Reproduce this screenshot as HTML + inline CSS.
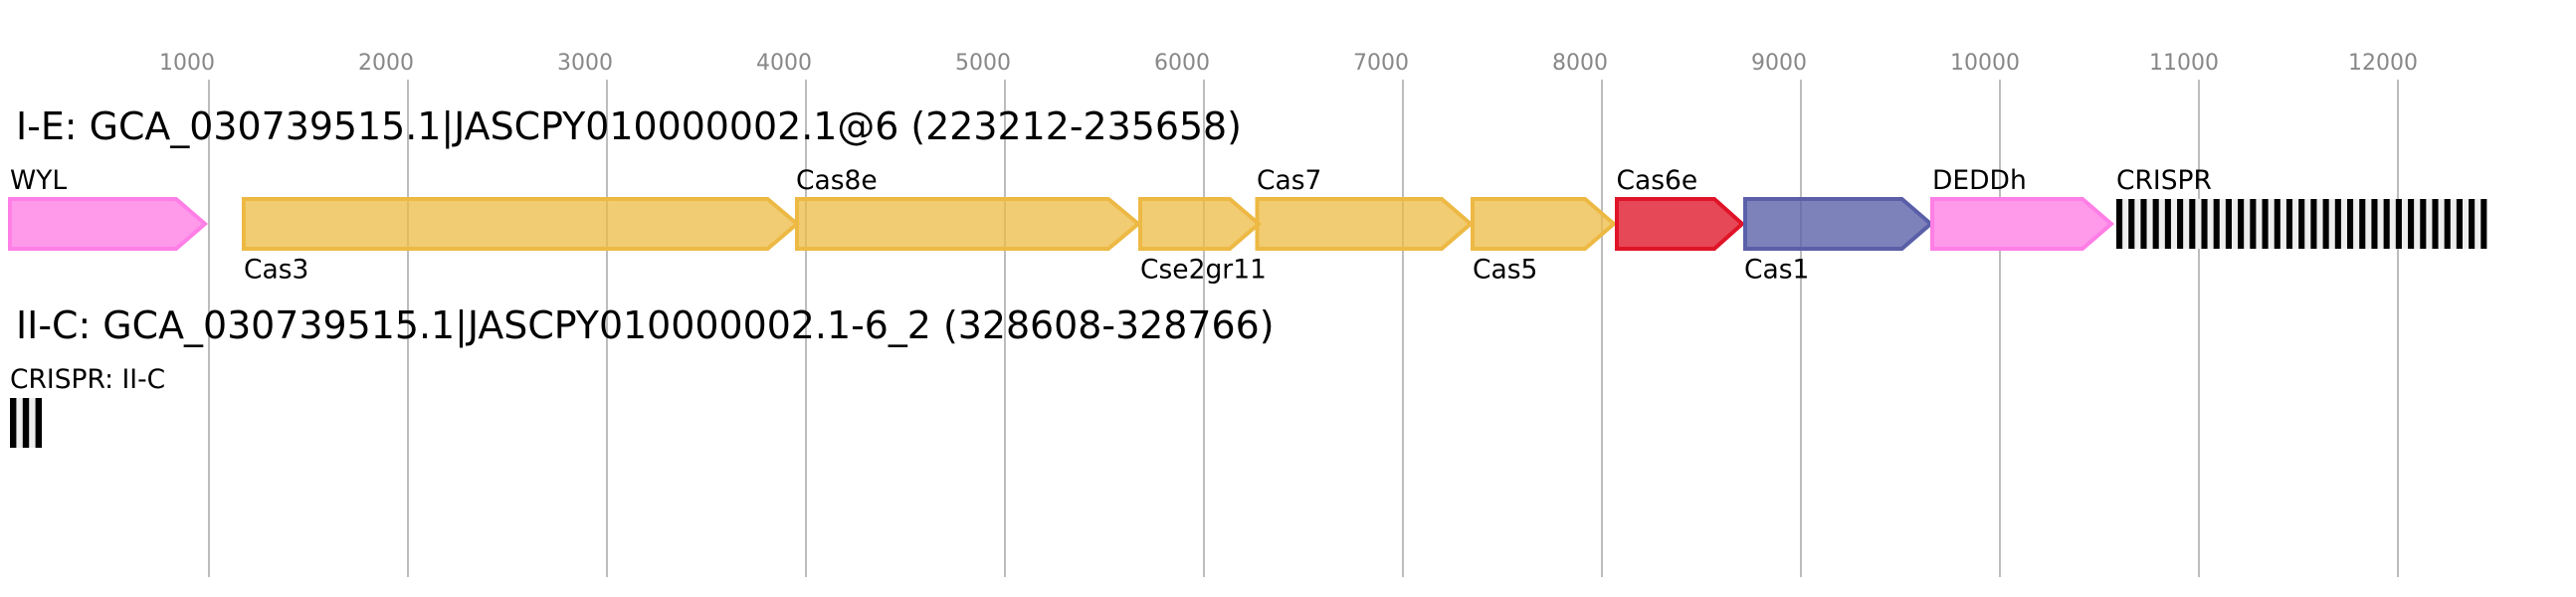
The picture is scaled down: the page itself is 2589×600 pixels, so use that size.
<!DOCTYPE html>
<html><head><meta charset="utf-8"><style>html,body{margin:0;padding:0;background:#fff}svg{display:block}text{font-family:"DejaVu Sans",sans-serif}</style></head><body>
<svg xmlns="http://www.w3.org/2000/svg" width="2589" height="600" viewBox="0 0 2589 600">
<rect width="2589" height="600" fill="#fff"/>
<g stroke="#bdbdbd" stroke-width="2">
<line x1="210" y1="80" x2="210" y2="580"/><line x1="410" y1="80" x2="410" y2="580"/><line x1="610" y1="80" x2="610" y2="580"/><line x1="810" y1="80" x2="810" y2="580"/><line x1="1010" y1="80" x2="1010" y2="580"/><line x1="1210" y1="80" x2="1210" y2="580"/><line x1="1410" y1="80" x2="1410" y2="580"/><line x1="1610" y1="80" x2="1610" y2="580"/><line x1="1810" y1="80" x2="1810" y2="580"/><line x1="2010" y1="80" x2="2010" y2="580"/><line x1="2210" y1="80" x2="2210" y2="580"/><line x1="2410" y1="80" x2="2410" y2="580"/>
</g>
<g fill="#888" font-size="22">
<text x="160" y="70">1000</text><text x="360" y="70">2000</text><text x="560" y="70">3000</text><text x="760" y="70">4000</text><text x="960" y="70">5000</text><text x="1160" y="70">6000</text><text x="1360" y="70">7000</text><text x="1560" y="70">8000</text><text x="1760" y="70">9000</text><text x="1960" y="70">10000</text><text x="2160" y="70">11000</text><text x="2360" y="70">12000</text>
</g>
<text x="16" y="140" font-size="37.9">I-E: GCA_030739515.1|JASCPY010000002.1@6 (223212-235658)</text>
<text x="16" y="340" font-size="37.9">II-C: GCA_030739515.1|JASCPY010000002.1-6_2 (328608-328766)</text>
<g stroke-width="4" stroke-linejoin="miter">
<polygon points="10,200 177,200 206,225 177,250 10,250" fill="#ff99ea" stroke="#ff7fe6"/>
<g fill="#ecbb43" fill-opacity="0.75" stroke="#edb944">
<polygon points="245,200 771.5,200 801,225 771.5,250 245,250"/>
<polygon points="801,200 1114,200 1144,225 1114,250 801,250"/>
<polygon points="1146,200 1236,200 1265,225 1236,250 1146,250"/>
<polygon points="1263.5,200 1449,200 1478,225 1449,250 1263.5,250"/>
<polygon points="1480,200 1593,200 1622,225 1593,250 1480,250"/>
</g>
<polygon points="1625,200 1723,200 1751,225 1723,250 1625,250" fill="#e01428" fill-opacity="0.78" stroke="#e01428"/>
<polygon points="1754,200 1911.5,200 1940.5,225 1911.5,250 1754,250" fill="#5a5fa8" fill-opacity="0.78" stroke="#5a5fa8"/>
<polygon points="1942,200 2093,200 2122,225 2093,250 1942,250" fill="#ff99ea" stroke="#ff7fe6"/>
</g>
<rect x="2127" y="200" width="372.4" height="50" fill="#eee"/>
<g fill="#000">
<rect x="2127" y="200" width="6.1" height="50"/><rect x="2139.21" y="200" width="6.1" height="50"/><rect x="2151.42" y="200" width="6.1" height="50"/><rect x="2163.63" y="200" width="6.1" height="50"/><rect x="2175.84" y="200" width="6.1" height="50"/><rect x="2188.05" y="200" width="6.1" height="50"/><rect x="2200.26" y="200" width="6.1" height="50"/><rect x="2212.47" y="200" width="6.1" height="50"/><rect x="2224.68" y="200" width="6.1" height="50"/><rect x="2236.89" y="200" width="6.1" height="50"/><rect x="2249.1" y="200" width="6.1" height="50"/><rect x="2261.31" y="200" width="6.1" height="50"/><rect x="2273.52" y="200" width="6.1" height="50"/><rect x="2285.73" y="200" width="6.1" height="50"/><rect x="2297.94" y="200" width="6.1" height="50"/><rect x="2310.15" y="200" width="6.1" height="50"/><rect x="2322.36" y="200" width="6.1" height="50"/><rect x="2334.57" y="200" width="6.1" height="50"/><rect x="2346.78" y="200" width="6.1" height="50"/><rect x="2358.99" y="200" width="6.1" height="50"/><rect x="2371.2" y="200" width="6.1" height="50"/><rect x="2383.41" y="200" width="6.1" height="50"/><rect x="2395.62" y="200" width="6.1" height="50"/><rect x="2407.83" y="200" width="6.1" height="50"/><rect x="2420.04" y="200" width="6.1" height="50"/><rect x="2432.25" y="200" width="6.1" height="50"/><rect x="2444.46" y="200" width="6.1" height="50"/><rect x="2456.67" y="200" width="6.1" height="50"/><rect x="2468.88" y="200" width="6.1" height="50"/><rect x="2481.09" y="200" width="6.1" height="50"/><rect x="2493.3" y="200" width="6.1" height="50"/>
</g>
<rect x="10" y="400" width="32" height="50" fill="#eee"/>
<g fill="#000"><rect x="10" y="400" width="6.4" height="50"/><rect x="22.8" y="400" width="6.4" height="50"/><rect x="35.6" y="400" width="6.4" height="50"/></g>
<g fill="#000" font-size="26.5">
<text x="10" y="190">WYL</text><text x="245" y="279.5">Cas3</text><text x="800" y="190">Cas8e</text><text x="1146" y="279.5">Cse2gr11</text><text x="1263" y="190">Cas7</text><text x="1480" y="279.5">Cas5</text><text x="1624.5" y="190">Cas6e</text><text x="1753" y="279.5">Cas1</text><text x="1942" y="190">DEDDh</text><text x="2127" y="190">CRISPR</text><text x="10" y="390">CRISPR: II-C</text>
</g>
</svg>
</body></html>
